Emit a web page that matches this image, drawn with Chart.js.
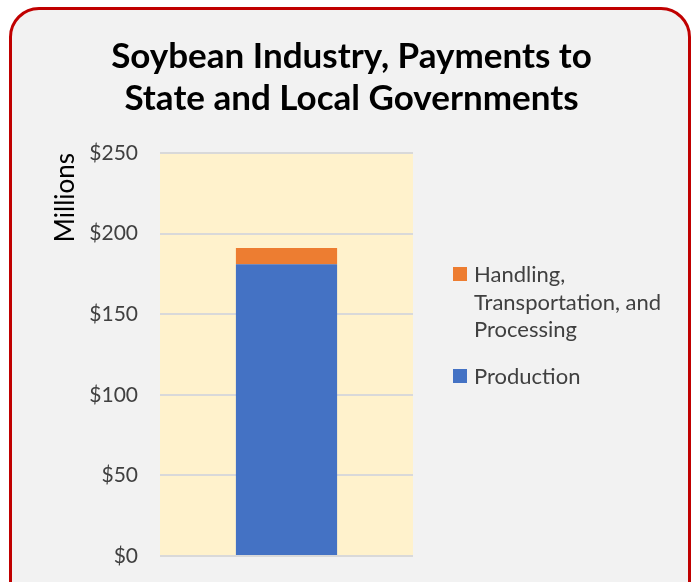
<!DOCTYPE html>
<html>
<head>
<meta charset="utf-8">
<title>Soybean Industry, Payments to State and Local Governments</title>
<script src="https://cdn.jsdelivr.net/npm/chart.js@4.4.1/dist/chart.umd.min.js"></script>
<style>
  html, body { margin: 0; padding: 0; background: #ffffff; }
  #wrap { position: relative; width: 693px; height: 582px; overflow: hidden; }
  #frame {
    position: absolute; left: 9px; top: 7px;
    width: 676px; height: 640px;
    border: 3px solid #c00000; border-radius: 30px;
    background: #f2f2f2;
  }
  #chart { position: absolute; left: 0; top: 0; }
</style>
</head>
<body>
<div id="wrap">
  <div id="frame"></div>
  <canvas id="chart" width="693" height="582"></canvas>
</div>
<script>
// ============================================================
// DATI
// ============================================================
const categories = ["Soybean Industry"];
const production = [181];
const handling = [10];
const productionLabel = ["Production"];
const handlingLabel = ["Handling,", "Transportation, and", "Processing"];
const titleLines = ["Soybean Industry, Payments to", "State and Local Governments"];
const yAxisTitle = "Millions";
const yMax = 250;
const yStep = 50;

const FONT = "Lato, 'Open Sans', sans-serif";
const TEXT_GRAY = "#404040";

// ============================================================
// PLUGIN: sfondo area grafico
// ============================================================
const plotBackground = {
  id: "plotBackground",
  beforeDraw(chart) {
    const { ctx, chartArea } = chart;
    ctx.save();
    ctx.fillStyle = "#fff2cc";
    ctx.fillRect(chartArea.left, chartArea.top, chartArea.width, chartArea.height);
    ctx.restore();
  }
};

// ============================================================
// PLUGIN: legenda laterale (testo su piu righe)
// ============================================================
const sideLegend = {
  id: "sideLegend",
  afterDraw(chart, args, opts) {
    const ctx = chart.ctx;
    ctx.save();
    ctx.font = `${opts.size}px ${FONT}`;
    ctx.textBaseline = "middle";
    ctx.textAlign = "left";
    let y = opts.top;
    opts.order.forEach(i => {
      const ds = chart.data.datasets[i];
      ctx.fillStyle = ds.backgroundColor;
      ctx.fillRect(opts.left, y - 1 - opts.box / 2, opts.box, opts.box);
      ctx.fillStyle = TEXT_GRAY;
      ds.legendLines.forEach((line, k) => {
        ctx.fillText(line, opts.left + opts.box + 7, y + k * opts.lineHeight);
      });
      y += ds.legendLines.length * opts.lineHeight + opts.gap;
    });
    ctx.restore();
  }
};

// ============================================================
// GRAFICO
// ============================================================
const ctx = document.getElementById("chart").getContext("2d");

new Chart(ctx, {
  type: "bar",
  data: {
    labels: categories,
    datasets: [
      {
        label: productionLabel.join(" "),
        legendLines: productionLabel,
        data: production,
        backgroundColor: "#4472c4",
        barPercentage: 0.4,
        categoryPercentage: 1
      },
      {
        label: handlingLabel.join(" "),
        legendLines: handlingLabel,
        data: handling,
        backgroundColor: "#ed7d31",
        barPercentage: 0.4,
        categoryPercentage: 1
      }
    ]
  },
  options: {
    responsive: false,
    animation: false,
    devicePixelRatio: 1,
    layout: {
      padding: { top: 21, left: 10, right: 0, bottom: 26 }
    },
    plugins: {
      legend: { display: false },
      tooltip: { enabled: false },
      title: {
        display: true,
        text: titleLines,
        color: "#000000",
        font: { family: FONT, size: 35, weight: "bold", lineHeight: 1.214 },
        padding: { top: 14, bottom: 33 }
      },
      sideLegend: {
        order: [1, 0],
        left: 453,
        top: 275,
        box: 14,
        size: 22,
        lineHeight: 27.5,
        gap: 19.5
      }
    },
    scales: {
      x: {
        stacked: true,
        display: false
      },
      y: {
        stacked: true,
        min: 0,
        max: yMax,
        afterFit(scale) {
          scale.width = 150;
          scale.paddingTop = 0;
          scale.paddingBottom = 0;
        },
        border: { display: false },
        grid: { color: "#d9d9d9", lineWidth: 2, drawTicks: false },
        ticks: {
          stepSize: yStep,
          padding: 22,
          color: TEXT_GRAY,
          font: { family: FONT, size: 21 },
          callback: v => "$" + v
        },
        title: {
          display: true,
          text: yAxisTitle,
          align: "end",
          color: "#000000",
          font: { family: FONT, size: 26 },
          padding: { top: 40, bottom: 0 }
        }
      },
      // spazio a destra riservato alla legenda
      legendSpace: {
        type: "linear",
        position: "right",
        display: true,
        afterFit(scale) { scale.width = 280; },
        border: { display: false },
        grid: { display: false },
        ticks: { display: false }
      }
    }
  },
  plugins: [plotBackground, sideLegend]
});
</script>
</body>
</html>
